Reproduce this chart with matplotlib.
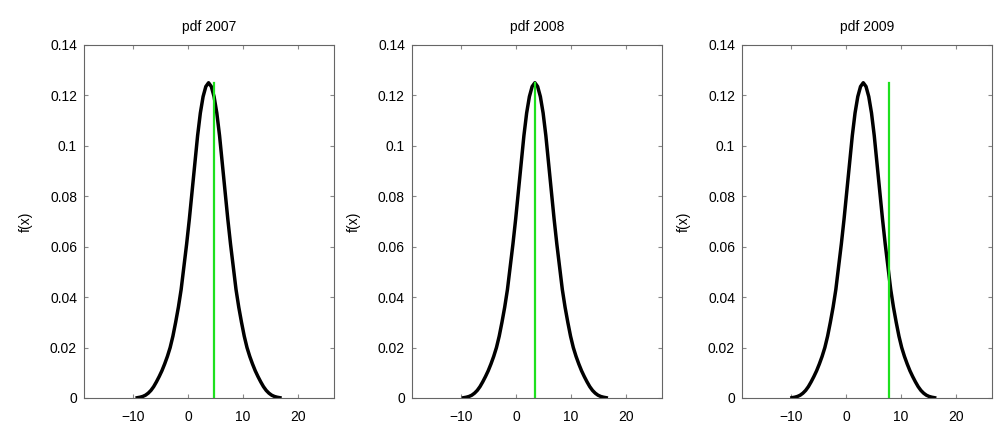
import numpy as np
import matplotlib
matplotlib.use('Agg')
import matplotlib.pyplot as plt

plt.rcParams['font.family'] = ['Liberation Sans', 'DejaVu Sans']

offsets = np.arange(-13, 13.01, 0.5)
pdf_vals = [0.0001, 0.0003, 0.0006, 0.0011, 0.0019, 0.0030, 0.0045, 0.0064,
            0.0085, 0.0108, 0.0135, 0.0165, 0.0200, 0.0245, 0.0300, 0.0360,
            0.0430, 0.0520, 0.0610, 0.0710, 0.0820, 0.0930, 0.1040, 0.1130,
            0.1195, 0.1235, 0.1250, 0.1235, 0.1195, 0.1130, 0.1040, 0.0930,
            0.0820, 0.0710, 0.0610, 0.0520, 0.0430, 0.0360, 0.0300, 0.0245,
            0.0200, 0.0165, 0.0135, 0.0108, 0.0085, 0.0064, 0.0045, 0.0030,
            0.0019, 0.0011, 0.0006, 0.0003, 0.0001]
years = ['2007', '2008', '2009']
peaks = [3.7, 3.4, 3.1]
observed = [4.6, 3.5, 7.8]
line_top = 0.125

fig = plt.figure(figsize=(9.95, 4.29), dpi=100)
lefts = [0.0844, 0.414, 0.7457]

for left, yr, mu, obs in zip(lefts, years, peaks, observed):
    ax = fig.add_axes([left, 0.0723, 0.251, 0.823])
    ax.plot(offsets + mu, pdf_vals, color='black', lw=2.5)
    ax.plot([obs, obs], [0, line_top], color='#1ee01e', lw=1.6)
    ax.set_xlim(-19, 26.5)
    ax.set_ylim(0, 0.14)
    ax.set_xticks([-10, 0, 10, 20])
    ax.set_yticks([0, 0.02, 0.04, 0.06, 0.08, 0.1, 0.12, 0.14])
    ax.set_yticklabels(['0', '0.02', '0.04', '0.06', '0.08', '0.1', '0.12', '0.14'])
    ax.tick_params(direction='in', top=True, right=True, length=3,
                   color='#888888', labelsize=10, pad=5)
    ax.tick_params(axis='x', pad=9)
    for s in ax.spines.values():
        s.set_color('#666666')
        s.set_linewidth(0.8)
    ax.set_title('pdf ' + yr, fontsize=10, pad=10)
    ax.set_ylabel('f(x)', fontsize=10, labelpad=12)

fig.savefig('out.png', dpi=100)
